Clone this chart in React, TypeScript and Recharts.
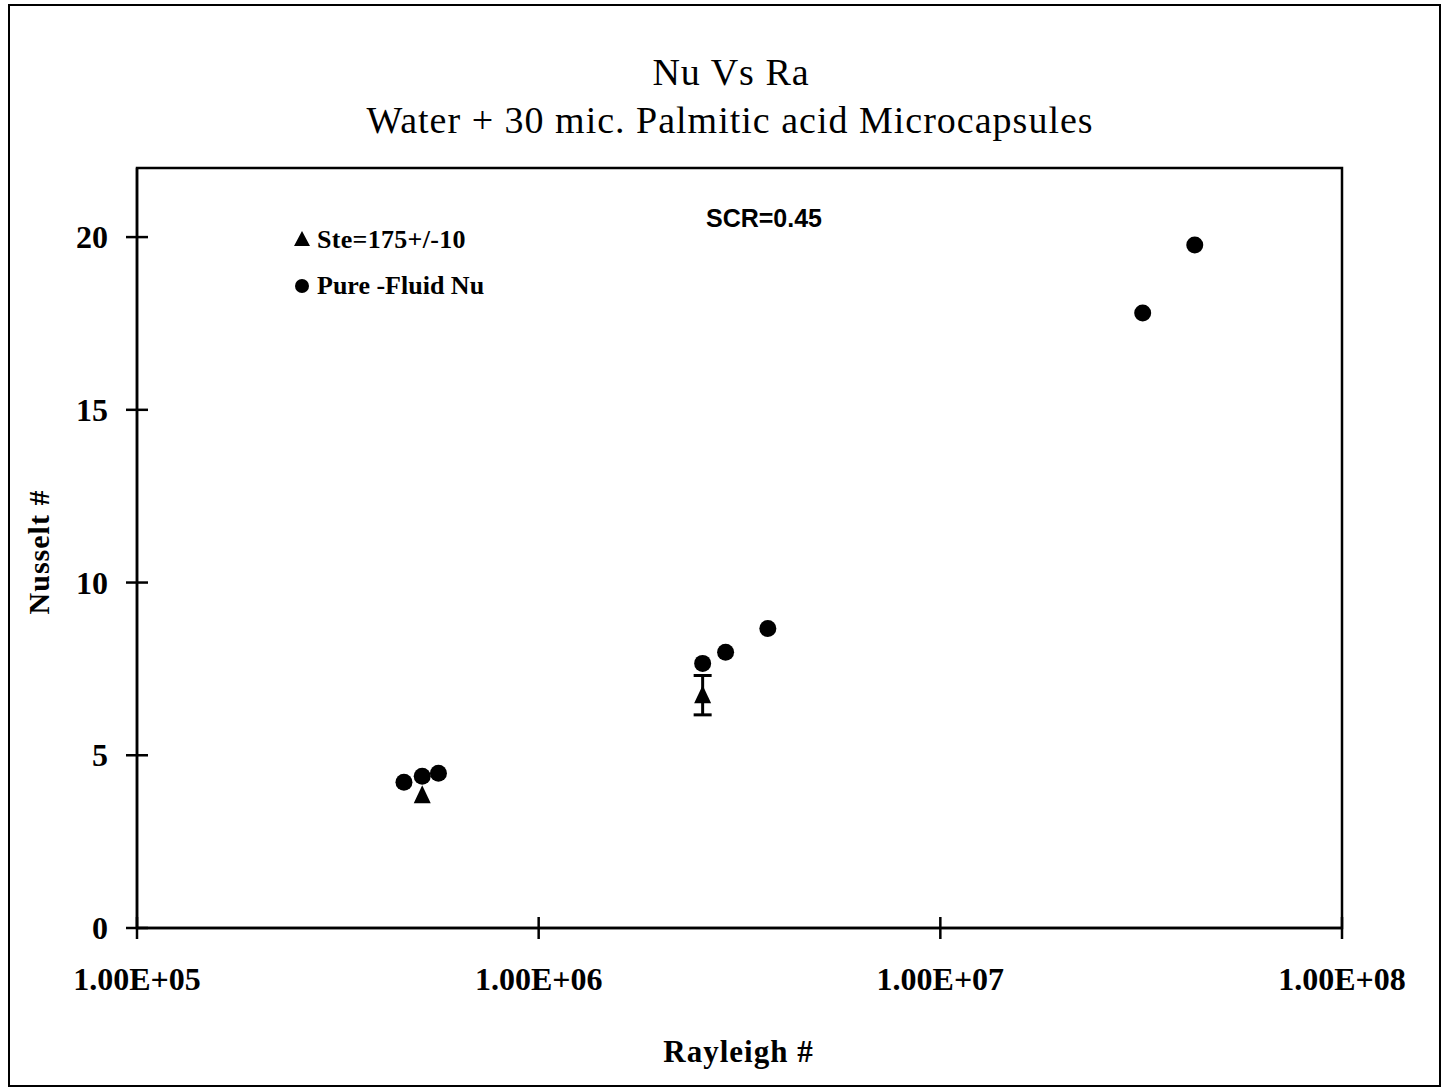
import React from 'react';
import {
  ScatterChart,
  Scatter,
  XAxis,
  YAxis,
  ErrorBar,
  ReferenceArea,
} from 'recharts';

// Rayleigh number / Nusselt number pairs
const steRa = [5.13e5, 2.56e6];
const steNu = [3.84, 6.74];
const steErr = [0, 0.57];

const pureRa = [4.62e5, 5.13e5, 5.63e5, 2.56e6, 2.92e6, 3.72e6, 3.19e7, 4.3e7];
const pureNu = [4.22, 4.39, 4.48, 7.66, 7.98, 8.67, 17.8, 19.77];

const xTicks = [1e5, 1e6, 1e7, 1e8];
const yTicks = [0, 5, 10, 15, 20];

const titleLines = ['Nu Vs Ra', 'Water + 30 mic. Palmitic acid Microcapsules'];
const legendLabels = ['Ste=175+/-10', 'Pure -Fluid Nu'];
const noteText = 'SCR=0.45';

const steData = steRa.map((ra, i) => ({ ra, nu: steNu[i], err: steErr[i] }));
const pureData = pureRa.map((ra, i) => ({ ra, nu: pureNu[i] }));

const SERIF = "'Liberation Serif', 'Times New Roman', serif";
const SANS = "'Liberation Sans', Arial, sans-serif";

const fmtSci = (v: number) => {
  const [m, e] = v.toExponential(2).split('e');
  const sign = e.startsWith('-') ? '-' : '+';
  const digits = e.replace(/[+-]/, '').padStart(2, '0');
  return `${m}E${sign}${digits}`;
};

const XTick = (props: any) => {
  const { x, y, payload } = props;
  return (
    <g>
      <line x1={x} x2={x} y1={y - 11} y2={y + 11} stroke="#000" strokeWidth={2.5} />
      <text
        x={x}
        y={y + 62}
        textAnchor="middle"
        fontFamily={SERIF}
        fontWeight="bold"
        fontSize={32}
        fill="#000"
      >
        {fmtSci(payload.value)}
      </text>
    </g>
  );
};

const YTick = (props: any) => {
  const { x, y, payload } = props;
  return (
    <g>
      <line x1={x - 11} x2={x + 11} y1={y} y2={y} stroke="#000" strokeWidth={2.5} />
      <text
        x={x - 29}
        y={y + 11}
        textAnchor="end"
        fontFamily={SERIF}
        fontWeight="bold"
        fontSize={32}
        fill="#000"
      >
        {payload.value}
      </text>
    </g>
  );
};

const Dot = (props: any) => {
  const { cx, cy } = props;
  return <circle cx={cx} cy={cy} r={8.5} fill="#000" />;
};

const Tri = (props: any) => {
  const { cx, cy } = props;
  return (
    <polygon
      points={`${cx},${cy - 10} ${cx - 8.5},${cy + 8} ${cx + 8.5},${cy + 8}`}
      fill="#000"
    />
  );
};

const XLabel = (props: any) => {
  const vb = props.viewBox || {};
  return (
    <text
      x={vb.x + vb.width / 2 - 1}
      y={vb.y + 134}
      textAnchor="middle"
      fontFamily={SERIF}
      fontWeight="bold"
      fontSize={31}
      letterSpacing={1}
      fill="#000"
    >
      Rayleigh #
    </text>
  );
};

const YLabel = (props: any) => {
  const vb = props.viewBox || {};
  const cx = 49;
  const cy = vb.y + vb.height / 2 + 4;
  return (
    <text
      x={cx}
      y={cy}
      textAnchor="middle"
      transform={`rotate(-90, ${cx}, ${cy})`}
      fontFamily={SERIF}
      fontWeight="bold"
      fontSize={30}
      letterSpacing={1}
      fill="#000"
    >
      Nusselt #
    </text>
  );
};

export default function App() {
  return (
    <div style={{ position: 'absolute', left: 0, top: 0, width: 1443, height: 1088, background: '#fff' }}>
      <ScatterChart
        width={1443}
        height={1088}
        margin={{ top: 168, right: 101, bottom: 0, left: 0 }}
      >
        <XAxis
          type="number"
          dataKey="ra"
          scale="log"
          domain={[1e5, 1e8]}
          ticks={xTicks}
          allowDataOverflow
          height={160}
          tickSize={0}
          tickMargin={0}
          tickLine={false}
          tick={<XTick />}
          axisLine={{ stroke: '#000', strokeWidth: 2.5 }}
          label={XLabel}
        />
        <YAxis
          type="number"
          dataKey="nu"
          domain={[0, 22]}
          ticks={yTicks}
          allowDataOverflow
          width={137}
          tickSize={0}
          tickMargin={0}
          tickLine={false}
          tick={<YTick />}
          axisLine={{ stroke: '#000', strokeWidth: 2.5 }}
          label={YLabel}
        />
        <ReferenceArea
          x1={1e5}
          x2={1e8}
          y1={0}
          y2={22}
          fill="none"
          fillOpacity={0}
          stroke="#000"
          strokeWidth={2.5}
        />
        <Scatter data={steData} shape={<Tri />} isAnimationActive={false}>
          <ErrorBar dataKey="err" direction="y" width={9} stroke="#000" strokeWidth={3} />
        </Scatter>
        <Scatter data={pureData} shape={<Dot />} isAnimationActive={false} />
      </ScatterChart>

      <svg
        width={1443}
        height={1088}
        style={{ position: 'absolute', left: 0, top: 0, pointerEvents: 'none' }}
      >
        <rect x={9} y={5} width={1431} height={1081} fill="none" stroke="#000" strokeWidth={2} />
        <text x={731} y={85} textAnchor="middle" fontFamily={SERIF} fontSize={38} fill="#000" letterSpacing={1}>
          {titleLines[0]}
        </text>
        <text x={730} y={133} textAnchor="middle" fontFamily={SERIF} fontSize={38} fill="#000" letterSpacing={1}>
          {titleLines[1]}
        </text>
        <text x={764} y={227} textAnchor="middle" fontFamily={SANS} fontWeight="bold" fontSize={25} fill="#000">
          {noteText}
        </text>
        <polygon points="302,231 294,246 310,246" fill="#000" />
        <text x={317} y={248} fontFamily={SERIF} fontWeight="bold" fontSize={26} fill="#000" letterSpacing={0.3}>
          {legendLabels[0]}
        </text>
        <circle cx={302} cy={286} r={7} fill="#000" />
        <text x={317} y={294} fontFamily={SERIF} fontWeight="bold" fontSize={26} fill="#000">
          {legendLabels[1]}
        </text>
      </svg>
    </div>
  );
}
